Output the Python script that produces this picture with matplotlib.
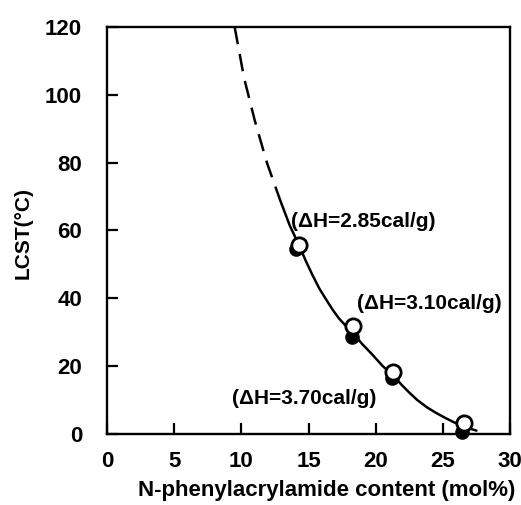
import matplotlib
matplotlib.use("Agg")
import matplotlib.pyplot as plt

# ---- data ----
open_x = [14.3, 18.3, 21.3, 26.6]
open_y = [55.6, 31.8, 18.3, 3.3]
filled_x = [14.1, 18.2, 21.2, 26.4]
filled_y = [54.6, 28.6, 16.4, 0.7]

dash_x = [9.5, 10.2, 11.0, 11.9, 12.9]
dash_y = [120.0, 105.0, 92.4, 80.0, 68.8]

curve_x = [12.9, 13.6, 14.3, 14.8, 15.3, 15.8, 16.35, 16.8, 17.3, 17.8, 18.3, 19.0, 19.8, 20.5,
           21.3, 21.9, 22.5, 23.1, 23.8, 24.5, 25.2, 25.8, 26.5, 27.0, 27.5]
curve_y = [68.8, 61.5, 55.6, 51.0, 46.8, 42.9, 39.4, 36.6, 33.9, 31.8, 29.8, 26.5, 23.2, 20.1,
           17.3, 14.6, 12.2, 10.0, 7.9, 6.2, 4.7, 3.5, 2.3, 1.6, 1.0]

labels = ["(ΔH=2.85cal/g)", "(ΔH=3.10cal/g)", "(ΔH=3.70cal/g)"]
label_x = [13.7, 18.6, 9.3]
label_y = [62.6, 38.5, 10.6]

xticks = [0, 5, 10, 15, 20, 25, 30]
yticks = [0, 20, 40, 60, 80, 100, 120]

plt.rcParams['font.family'] = ['Liberation Sans', 'DejaVu Sans']
plt.rcParams['font.weight'] = 'bold'

fig = plt.figure(figsize=(5.21, 5.05), dpi=100)
ax = fig.add_axes([0.2054, 0.1406, 0.7736, 0.806])

ax.plot(dash_x, dash_y, color='black', lw=1.8, ls=(0, (7, 4)), zorder=2)
ax.plot(curve_x, curve_y, color='black', lw=1.8, zorder=2, solid_capstyle='round')
ax.plot(filled_x, filled_y, 'o', color='black', ms=9.5, zorder=3, clip_on=False)
ax.plot(open_x, open_y, 'o', mfc='white', mec='black', mew=2.0, ms=11, zorder=4, clip_on=False)

for t, x, y in zip(labels, label_x, label_y):
    ax.text(x, y, t, fontsize=15, fontweight='bold', ha='left', va='center')

ax.set_xlim(0, 30)
ax.set_ylim(0, 120)
ax.set_xticks(xticks)
ax.set_yticks(yticks)
ax.tick_params(direction='in', length=8, width=1.6, labelsize=16, pad=12)
ax.tick_params(axis='y', pad=18)
for s in ax.spines.values():
    s.set_linewidth(1.7)
for lab in ax.get_xticklabels() + ax.get_yticklabels():
    lab.set_fontweight('bold')

ax.set_xlabel("N-phenylacrylamide content (mol%)", fontsize=16, fontweight='bold',
              va='center', ha='center')
ax.set_ylabel("LCST(°C)", fontsize=15, fontweight='bold', va='center')
ax.xaxis.set_label_coords((327 - 107) / 403, -(490 - 434) / 407)
ax.yaxis.set_label_coords(-(107 - 23) / 403, (434 - 233) / 407)

fig.savefig("out.png", dpi=100)
